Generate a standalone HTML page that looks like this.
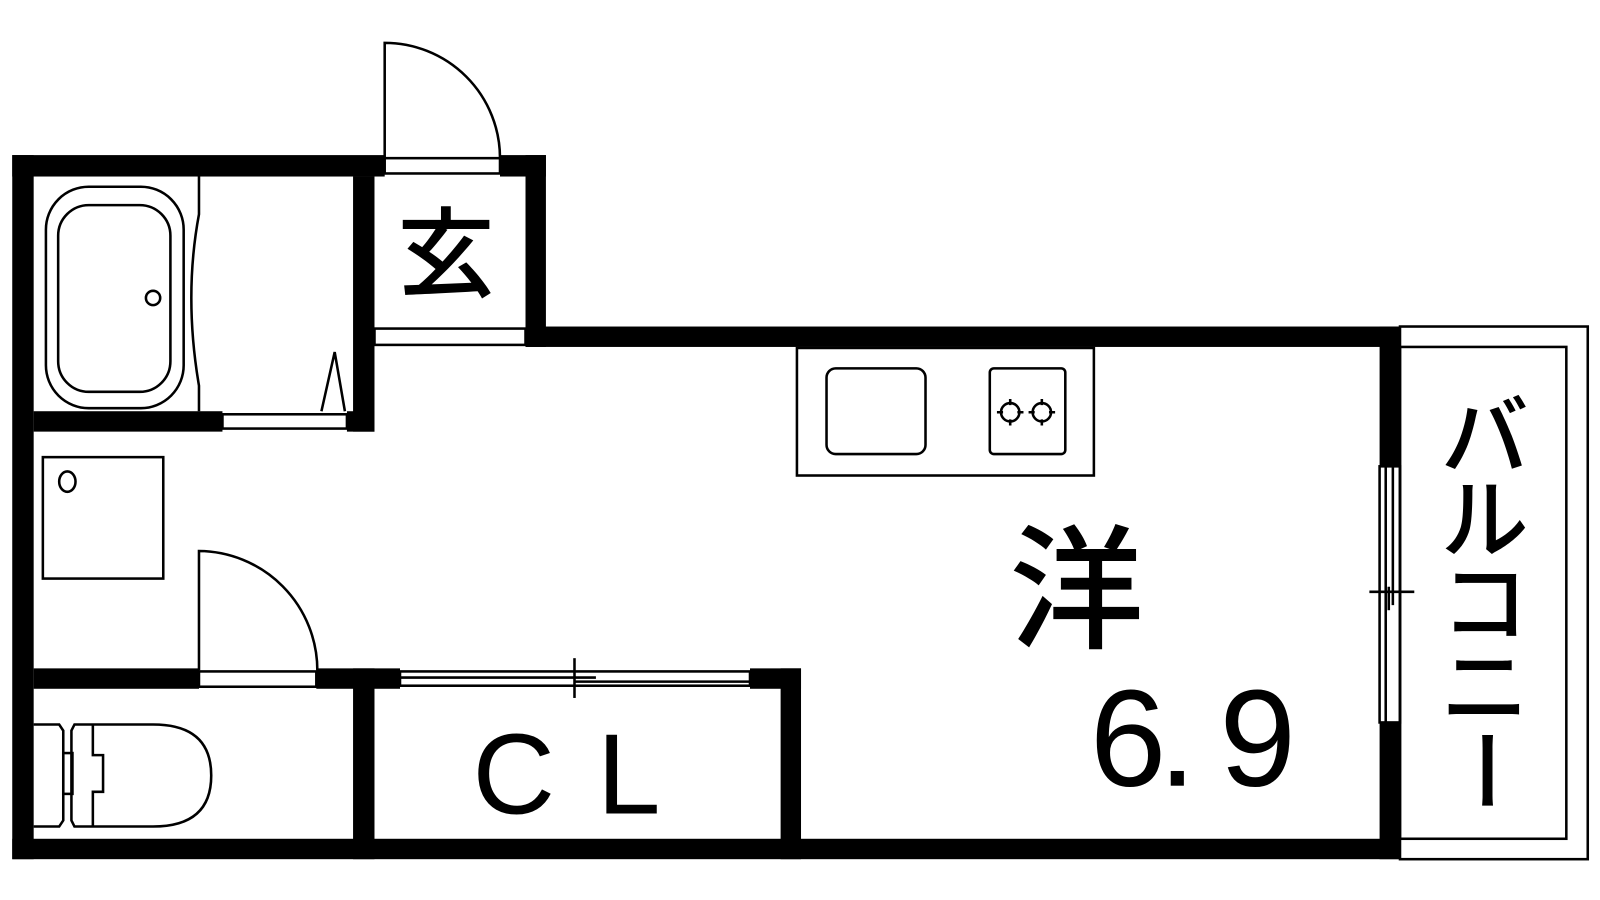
<!DOCTYPE html>
<html><head><meta charset="utf-8"><style>
html,body{margin:0;padding:0;background:#fff;}
svg{display:block}
text{font-family:"Liberation Sans","Noto Sans CJK JP",sans-serif;fill:#000}
.j{font-family:"Noto Sans CJK JP",sans-serif;font-weight:500}
</style></head><body>
<svg width="1600" height="900" viewBox="0 0 1568 882" xmlns="http://www.w3.org/2000/svg">
<rect width="1568" height="882" fill="#fff"/>
<g fill="#000">
<rect x="12" y="152" width="365" height="21"/>
<rect x="490" y="152" width="45" height="21"/>
<rect x="12" y="152" width="21" height="690"/>
<rect x="12" y="822" width="1360" height="20"/>
<rect x="515" y="152" width="20" height="188"/>
<rect x="515" y="320" width="857" height="20"/>
<rect x="1352" y="320" width="20" height="137"/>
<rect x="1352" y="708" width="20" height="134"/>
<rect x="346" y="173" width="21" height="250"/>
<rect x="33" y="403" width="185" height="20"/>
<rect x="340" y="403" width="27" height="20"/>
<rect x="33" y="655" width="162" height="20"/>
<rect x="310" y="655" width="82" height="20"/>
<rect x="735" y="655" width="50" height="20"/>
<rect x="346" y="655" width="21" height="187"/>
<rect x="765" y="655" width="20" height="187"/>
</g>
<g fill="none" stroke="#000" stroke-width="2.5">
<rect x="377" y="155" width="113" height="15"/>
<path d="M377 155 V42 A113 113 0 0 1 490 155"/>
<rect x="367" y="322" width="148" height="16"/>
<rect x="218" y="406" width="122" height="14"/>
<path d="M315 403 L328 345 L338 403"/>
<rect x="45" y="183" width="135" height="217" rx="42"/>
<rect x="57" y="201" width="110" height="183" rx="30"/>
<circle cx="150" cy="292" r="7"/>
<path d="M195 173 V210 Q180 290 195 378 V403"/>
<rect x="42" y="448" width="118" height="119"/>
<ellipse cx="66" cy="472" rx="8" ry="10"/>
<rect x="195" y="658" width="115" height="15"/>
<path d="M195 657 V540 A117 117 0 0 1 311 657"/>
<rect x="392" y="658" width="343" height="14"/>
<line x1="392" y1="664" x2="584" y2="664"/>
<line x1="563" y1="668" x2="735" y2="668"/>
<line x1="563" y1="645" x2="563" y2="684"/>
<path d="M33 710 H58 L62 716 V804 L58 810 H33"/>
<rect x="62" y="738" width="9" height="40"/>
<path d="M73 810 L70 804 V716 L73 710 H150 Q207 710 207 760 Q207 810 150 810 Z"/>
<path d="M91 710 V740 H101 V776 H91 V810"/>
<rect x="781" y="341" width="291" height="125"/>
<rect x="810" y="361" width="97" height="84" rx="9"/>
<rect x="970" y="361" width="74" height="84" rx="4"/>
<circle cx="990" cy="404" r="9"/>
<circle cx="1021" cy="404" r="9"/>
<path d="M977 404h6M997 404h6M990 391v6M990 411v6M1008 404h6M1028 404h6M1021 391v6M1021 411v6"/>
<rect x="1372" y="320" width="184" height="522"/>
<rect x="1372" y="340" width="163" height="482"/>
<rect x="1352" y="457" width="20" height="251"/>
<line x1="1358" y1="457" x2="1358" y2="708"/>
<line x1="1365" y1="457" x2="1365" y2="593"/>
<line x1="1386" y1="580" x2="1342" y2="580"/>
<line x1="1361" y1="575" x2="1361" y2="598"/>
</g>
<text class="j" x="437" y="283" font-size="96" text-anchor="middle">玄</text>
<text class="j" x="1055" y="625" font-size="132" text-anchor="middle">洋</text>
<text x="1068" y="770" font-size="135">6</text>
<text x="1135" y="770" font-size="135">.</text>
<text x="1195" y="770" font-size="135">9</text>
<text x="463" y="797" font-size="112">C</text>
<text x="585" y="797" font-size="112">L</text>
<g class="j" font-size="86" text-anchor="middle">
<text x="1455" y="458">バ</text>
<text x="1455" y="540">ル</text>
<text x="1455" y="622">コ</text>
<text x="1455" y="704">ニ</text>
<text x="0" y="0" transform="translate(1455,755) rotate(90) translate(0,30)">ー</text>
</g>
</svg>
</body></html>
